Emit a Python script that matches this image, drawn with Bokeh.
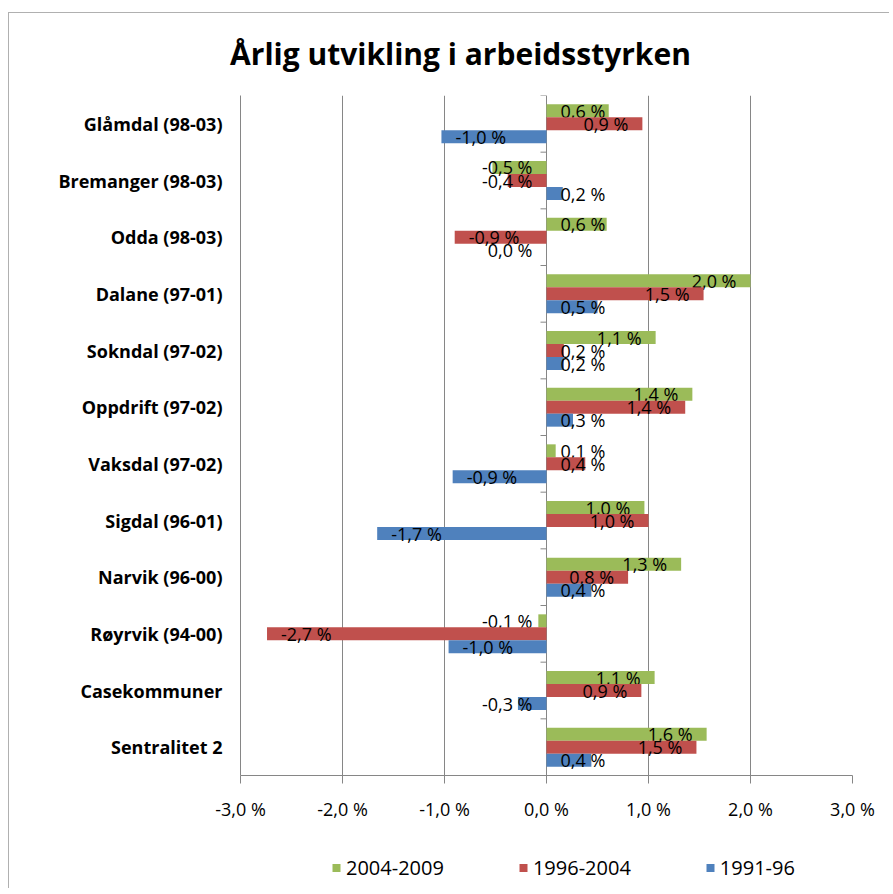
from bokeh.plotting import figure
from bokeh.layouts import column
from bokeh.models import (FactorRange, Range1d, FixedTicker, CustomJSTickFormatter,
                          ColumnDataSource, Legend, LegendItem, Label)
from bokeh.transform import dodge
from bokeh.core.properties import value
from bokeh.embed import file_html
from bokeh.resources import INLINE

# ---------------- data ----------------
title_text = "Årlig utvikling i arbeidsstyrken"
categories = [  # top to bottom
    "Glåmdal (98-03)", "Bremanger (98-03)", "Odda (98-03)", "Dalane (97-01)",
    "Sokndal (97-02)", "Oppdrift (97-02)", "Vaksdal (97-02)", "Sigdal (96-01)",
    "Narvik (96-00)", "Røyrvik (94-00)", "Casekommuner", "Sentralitet 2",
]
series_names = ["2004-2009", "1996-2004", "1991-96"]
v_2004_2009 = [0.61, -0.53, 0.59, 2.00, 1.07, 1.43, 0.09, 0.96, 1.32, -0.08, 1.06, 1.57]
v_1996_2004 = [0.94, -0.38, -0.90, 1.54, 0.17, 1.36, 0.38, 1.00, 0.80, -2.74, 0.93, 1.47]
v_1991_96 = [-1.03, 0.16, 0.00, 0.50, 0.17, 0.26, -0.92, -1.66, 0.44, -0.96, -0.28, 0.44]
x_ticks = [-3, -2, -1, 0, 1, 2, 3]
colors = ["#9BBB59", "#C0504D", "#4F81BD"]

# ---------------- layout / style ----------------
W = 880
H_TITLE, H_MAIN, H_LEG = 82, 735, 58
FRAME_L, FRAME_W, FRAME_H = 231, 612, 680
PX = FRAME_W / (x_ticks[-1] - x_ticks[0])
BAND = FRAME_H / len(categories)
BAR = 13 / BAND
GRAY = "#868686"
FONT = "Open Sans"
MARGIN = 14
W_POS, W_NEG = 45, 51

# position of title and legend, in canvas pixels
TITLE_CX, TITLE_BASE_FROM_BOTTOM = 451, 42
LEG_X, LEG_Y = 317, 7


def blank_fig(h):
    f = figure(width=W, height=h, title=None, x_axis_type=None, y_axis_type=None,
               output_backend="svg", toolbar_location=None, min_border=0)
    left, width = 0, W
    try:
        f.frame_align = False
    except Exception:
        left, width = FRAME_L, FRAME_W
    f.x_range = Range1d(left, left + width)
    f.y_range = Range1d(0, h)
    f.outline_line_color = None
    f.background_fill_color = "white"
    f.border_fill_color = "white"
    return f, left


# ---- title figure ----
pt, pt_left = blank_fig(H_TITLE)
pt.add_layout(Label(x=TITLE_CX, y=TITLE_BASE_FROM_BOTTOM, text=title_text, text_align="center",
                    text_baseline="alphabetic", text_font=FONT, text_font_style="bold",
                    text_font_size="30px", text_color="black"))

# ---- main figure ----
p = figure(width=W, height=H_MAIN, title=None,
           y_range=FactorRange(factors=categories[::-1], range_padding=0),
           x_range=Range1d(x_ticks[0], x_ticks[-1]),
           output_backend="svg", toolbar_location=None,
           min_border_left=FRAME_L, min_border_right=W - FRAME_L - FRAME_W,
           min_border_top=0, min_border_bottom=H_MAIN - FRAME_H)
p.outline_line_color = None
p.background_fill_color = "white"
p.border_fill_color = "white"

all_series = [v_2004_2009, v_1996_2004, v_1991_96]
offsets = [BAR, 0.0, -BAR]
for name, vals, col, off in zip(series_names, all_series, colors, offsets):
    lx, al, xo, txt = [], [], [], []
    for v in vals:
        txt.append(f"{v:.1f}".replace(".", ",") + " %")
        if v > 0:
            if v * PX >= 2 * MARGIN + W_POS:
                lx.append(v); al.append("right"); xo.append(-MARGIN)
            else:
                lx.append(0); al.append("left"); xo.append(MARGIN)
        else:
            if -v * PX >= 2 * MARGIN + W_NEG:
                lx.append(v); al.append("left"); xo.append(MARGIN)
            else:
                lx.append(0); al.append("right"); xo.append(-MARGIN)
    src = ColumnDataSource(dict(cat=categories, v=vals, lx=lx, al=al, xo=xo, t=txt))
    p.hbar(y=dodge("cat", off, range=p.y_range), left=0, right="v", height=BAR,
           fill_color=col, line_color=None, source=src)
    p.text(x="lx", y=dodge("cat", off, range=p.y_range), text="t", text_align="al",
           x_offset="xo", text_baseline="middle", text_font=value(FONT),
           text_font_size="18px", text_color="black", source=src)

# category tick marks on the zero line
bounds = list(range(len(categories) + 1))
p.segment(x0=[0] * len(bounds), x1=[-6 / PX] * len(bounds), y0=bounds, y1=bounds,
          line_color=GRAY, line_width=1)

p.xaxis.ticker = FixedTicker(ticks=x_ticks)
p.xaxis.formatter = CustomJSTickFormatter(code="return tick.toFixed(1).replace('.', ',') + ' %';")
p.xaxis.major_label_text_font = FONT
p.xaxis.major_label_text_font_size = "18px"
p.xaxis.major_label_text_color = "black"
p.xaxis.major_tick_out = 8
p.xaxis.major_tick_in = 0
p.xaxis.minor_tick_line_color = None
p.xaxis.axis_line_color = GRAY
p.xaxis.major_tick_line_color = GRAY
p.xaxis.major_label_standoff = 13

p.yaxis.major_label_text_font = FONT
p.yaxis.major_label_text_font_size = "18px"
p.yaxis.major_label_text_font_style = "bold"
p.yaxis.major_label_text_color = "black"
p.yaxis.major_tick_out = 0
p.yaxis.major_tick_in = 0
p.yaxis.major_tick_line_color = None
p.yaxis.minor_tick_line_color = None
p.yaxis.axis_line_color = GRAY
p.yaxis.major_label_standoff = 18

p.xgrid.ticker = FixedTicker(ticks=x_ticks)
p.xgrid.grid_line_color = GRAY
p.ygrid.grid_line_color = None

# ---- legend figure ----
pl, pl_left = blank_fig(H_LEG)
leg_renderers = []
for vals, col in zip(all_series, colors):
    r = pl.scatter(x=vals, y=list(range(len(vals))), marker="square", size=8,
                   fill_color=col, line_color=None)
    r.visible = False
    leg_renderers.append(r)
legend = Legend(items=[LegendItem(label=n, renderers=[r]) for n, r in zip(series_names, leg_renderers)],
                orientation="horizontal", location=(LEG_X - pl_left, LEG_Y),
                glyph_width=20, glyph_height=27, label_height=27, label_standoff=-4, spacing=69,
                padding=0, margin=0, border_line_color=None, background_fill_alpha=0,
                label_text_font=FONT, label_text_font_size="20px", label_text_color="black")
pl.add_layout(legend)

layout = column(pt, p, pl, spacing=0)
layout.styles = {"margin-left": "8px", "margin-top": "12px",
                 "border-left": "1px solid #b0b0b0", "border-top": "1px solid #b0b0b0"}

open("out.html", "w").write(file_html(layout, INLINE))
